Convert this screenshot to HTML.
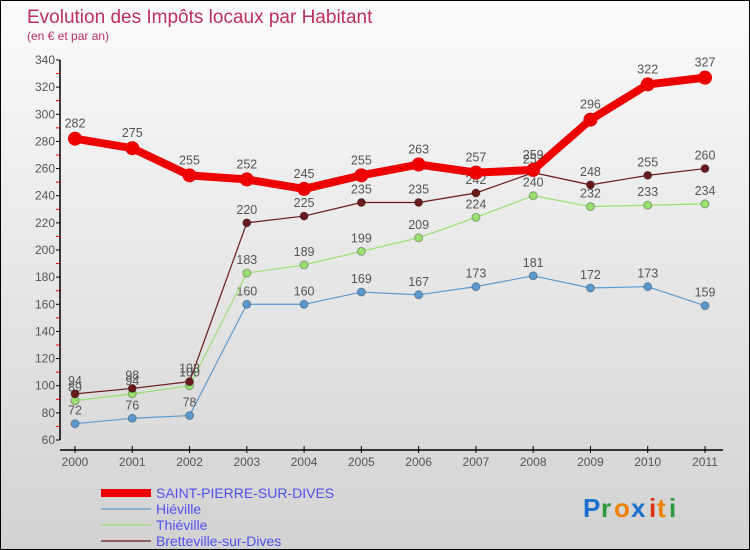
<!DOCTYPE html>
<html><head><meta charset="utf-8"><style>
body{margin:0;width:750px;height:550px;overflow:hidden;font-family:"Liberation Sans",sans-serif;}
#wrap{position:relative;width:748px;height:548px;border:1px solid #000;background:linear-gradient(#fbfbfb,#d2d2d2);}
</style></head><body>
<div id="wrap">
<svg id="chart" width="748" height="548" viewBox="0 0 748 548" style="position:absolute;left:0;top:0">
<text x="26" y="22" font-size="19" fill="#c0305a">Evolution des Impôts locaux par Habitant</text>
<text x="26" y="39" font-size="12" fill="#c0305a">(en € et par an)</text>
<g id="axes"></g><g id="series"></g><g id="legend"></g>
<g font-size="26" font-weight="bold">
<text x="582" y="516" fill="#1a6fd0">P</text><text x="600" y="516" fill="#2a9a3a">r</text><text x="613" y="516" fill="#f08000">o</text><text x="630" y="516" fill="#1a6fd0">x</text><text x="648" y="516" fill="#e03010">i</text><text x="656" y="516" fill="#f08000">t</text><text x="668" y="516" fill="#2a9a3a">i</text>
</g>
</svg>
</div>
<script>
const years=["2000","2001","2002","2003","2004","2005","2006","2007","2008","2009","2010","2011"];
const yTicks=[60,80,100,120,140,160,180,200,220,240,260,280,300,320,340];
const saint=[282,275,255,252,245,255,263,257,259,296,322,327];
const hieville=[72,76,78,160,160,169,167,173,181,172,173,159];
const thieville=[89,94,100,183,189,199,209,224,240,232,233,234];
const bretteville=[94,98,103,220,225,235,235,242,257,248,255,260];
const NS="http://www.w3.org/2000/svg";
function X(i){return 74+i*(630/11);}
function Y(v){return 439-(v-60)*(380/280);}
function mk(tag,attrs,parent){const e=document.createElementNS(NS,tag);for(const k in attrs)e.setAttribute(k,attrs[k]);parent.appendChild(e);return e;}
const axes=document.getElementById('axes');
let ya=mk('line',{x1:59,y1:Y(340),x2:59,y2:Y(60),stroke:'#000','stroke-width':1.5},axes);


yTicks.forEach(v=>{
 mk('line',{x1:55,x2:59,y1:Y(v),y2:Y(v),stroke:'#000'},axes);
 if(v<340)mk('line',{x1:55,x2:59,y1:Y(v+10),y2:Y(v+10),stroke:'#e00000'},axes);
 const t=mk('text',{x:54,y:Y(v)+4,'text-anchor':'end','font-size':12,fill:'#555'},axes);t.textContent=v;
 
 
});
let xa=mk('line',{x1:59,y1:449,x2:722,y2:449,stroke:'#000','stroke-width':1.5},axes);


years.forEach((y,i)=>{
 mk('line',{x1:X(i),x2:X(i),y1:445,y2:452,stroke:'#000'},axes);
 const t=mk('text',{x:X(i),y:465,'text-anchor':'middle','font-size':12,fill:'#555'},axes);t.textContent=y;
 
 
});
const series=[
 {name:'Hiéville',data:hieville,color:'#5a9ad0',w:1.2,r:4,key:'hieville'},
 {name:'Thiéville',data:thieville,color:'#98e070',w:1.2,r:4,key:'thieville'},
 {name:'Bretteville-sur-Dives',data:bretteville,color:'#6a1a1a',w:1.2,r:4,key:'bretteville'},
 {name:'SAINT-PIERRE-SUR-DIVES',data:saint,color:'#ee0000',w:8,r:7,key:'saint-pierre'}];
const sg=document.getElementById('series');
series.forEach(s=>{
 const g=mk('g',{},sg);
 
 
 const p=mk('polyline',{points:s.data.map((v,i)=>X(i)+','+Y(v)).join(' '),fill:'none',stroke:s.color,'stroke-width':s.w,'stroke-linejoin':'round'},g);
 
 
 s.data.forEach((v,i)=>{
  const c=mk('circle',{cx:X(i),cy:Y(v),r:s.r,fill:s.color,stroke:'rgba(0,0,0,0.3)','stroke-width':s.w>2?0:1},g);
  
  
  const t=mk('text',{x:X(i),y:Y(v)-(s.w>2?11:9),'text-anchor':'middle','font-size':12.5,fill:'#555'},g);t.textContent=v;
  
  
 });
});
const lg=document.getElementById('legend');
const order=[series[3],series[0],series[1],series[2]];
order.forEach((s,k)=>{
 const y=492+k*16;
 const g=mk('g',{},lg);
 
 
 mk('line',{x1:100,x2:150,y1:y,y2:y,stroke:s.color,'stroke-width':s.w},g);
 const t=mk('text',{x:155,y:y+5,'font-size':14,fill:'#5050f0'},g);t.textContent=s.name;
});
</script>
</body></html>
